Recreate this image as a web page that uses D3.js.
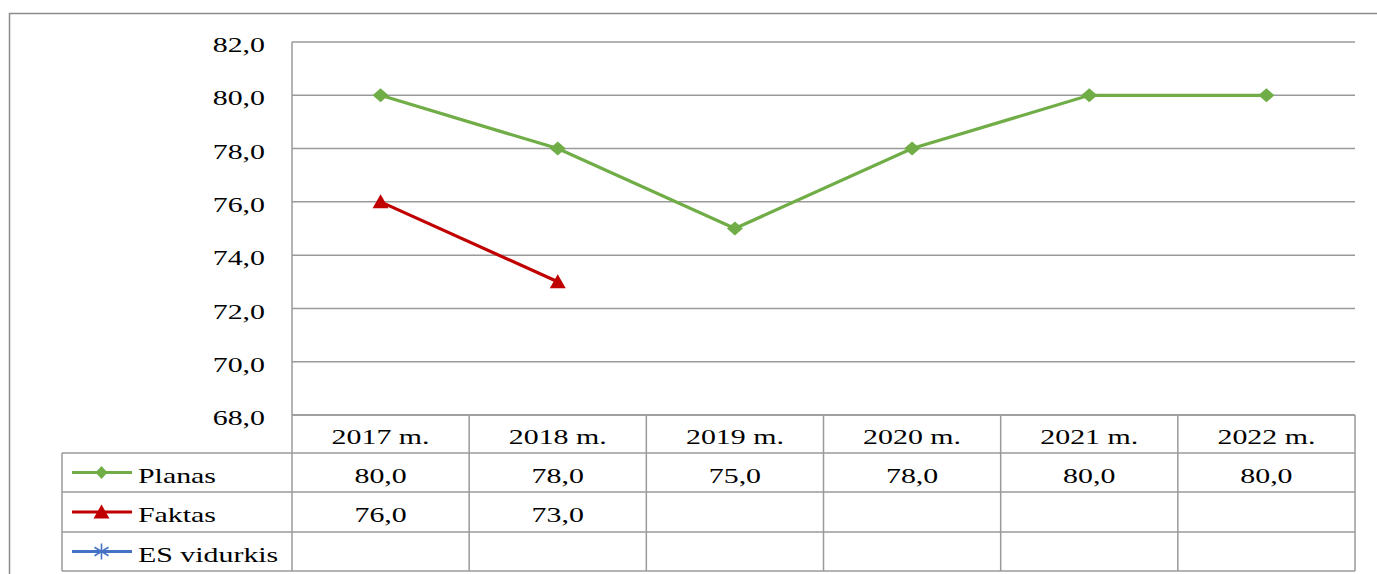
<!DOCTYPE html>
<html><head><meta charset="utf-8">
<script src="https://cdn.jsdelivr.net/npm/d3@7"></script>
<style>body{margin:0;background:#fff}svg{display:block}</style>
</head><body>
<svg id="c" width="1377" height="574"></svg>
<script>
const categories = ["2017 m.","2018 m.","2019 m.","2020 m.","2021 m.","2022 m."];
const planas = [80,78,75,78,80,80];
const faktas = [76,73,null,null,null,null];
const esVidurkis = [null,null,null,null,null,null];
const yTicks = [68,70,72,74,76,78,80,82];
const seriesNames = ["Planas","Faktas","ES vidurkis"];
const seriesColors = ["#70AD47","#C00000","#4472C4"];

(function(){
const FS=21.5;
const ctx=document.createElement("canvas").getContext("2d");
function w(fam){ctx.font=`${FS}px ${fam}`;return ctx.measureText("2017 m. Planas ES vidurkis 80,0").width;}
const cands=["Liberation Serif","Tinos","Times New Roman","DejaVu Serif","Noto Serif","FreeSerif","Times"];
let fam=null;
for(const c of cands){
  const a=w(`'${c}', monospace`), b=w("monospace");
  const a2=w(`'${c}', sans-serif`), b2=w("sans-serif");
  if(Math.abs(a-b)>0.5 && Math.abs(a2-b2)>0.5){fam=c;break;}
}
const FONT=fam?`'${fam}', serif`:"serif";
ctx.font=`${FS}px ${FONT}`;
const SX=98/ctx.measureText("2017 m.").width;

const svg = d3.select("#c");
const pL=292,pR=1355,pT=42,pB=415;
const rowH=[415,453,492,532,571];
const legendLeft=62;
const grid="#9a9a9a";

function txt(g,x,y,s,anchor){
  return g.append("text").attr("transform",`translate(${x},${y}) scale(${SX},1)`)
    .attr("text-anchor",anchor||"start").style("font-family",FONT)
    .attr("font-size",FS).attr("fill","#000").text(s);
}

svg.append("rect").attr("x",9.5).attr("y",13.5).attr("width",1400).attr("height",600)
  .attr("fill","none").attr("stroke","#8c8c8c").attr("stroke-width",1.5);

const x=d3.scaleBand().domain(categories).range([pL,pR]).padding(0);
const y=d3.scaleLinear().domain([68,82]).range([pB,pT]);
const fmt=d=>d3.format(".1f")(d).replace(".",",");

svg.append("g").selectAll("line").data(yTicks).join("line")
  .attr("x1",pL).attr("x2",pR).attr("y1",d=>y(d)).attr("y2",d=>y(d))
  .attr("stroke",grid).attr("stroke-width",1.5);

const ya=svg.append("g").attr("transform",`translate(${pL},0)`)
  .call(d3.axisLeft(y).tickValues(yTicks).tickFormat(fmt).tickSize(0).tickPadding(0));
ya.select(".domain").remove();
ya.selectAll(".tick text").each(function(){
  d3.select(this).attr("x",0).attr("dy",null).attr("y",0)
   .attr("transform",`translate(-27,9.7) scale(${SX},1)`)
   .attr("font-size",FS).attr("fill","#000").style("font-family",FONT);
});
svg.append("line").attr("x1",pL).attr("x2",pL).attr("y1",pT).attr("y2",rowH[4]).attr("stroke",grid).attr("stroke-width",1.5);

const tg=svg.append("g");
tg.append("line").attr("x1",pL).attr("x2",pR).attr("y1",rowH[0]).attr("y2",rowH[0]).attr("stroke",grid).attr("stroke-width",1.5);
[1,2,3,4].forEach(i=>tg.append("line").attr("x1",legendLeft).attr("x2",pR).attr("y1",rowH[i]).attr("y2",rowH[i]).attr("stroke",grid).attr("stroke-width",1.5));
categories.forEach(c=>tg.append("line").attr("x1",x(c)+x.bandwidth()).attr("x2",x(c)+x.bandwidth()).attr("y1",rowH[0]).attr("y2",rowH[4]).attr("stroke",grid).attr("stroke-width",1.5));
tg.append("line").attr("x1",legendLeft).attr("x2",legendLeft).attr("y1",rowH[1]).attr("y2",rowH[4]).attr("stroke",grid).attr("stroke-width",1.5);

categories.forEach(c=>txt(tg,x(c)+x.bandwidth()/2,(rowH[0]+rowH[1])/2+10,c,"middle"));

const allSeries=[planas,faktas,esVidurkis];
function marker(g,i,cx,cy,leg){
  const col=seriesColors[i];
  if(i===0){const mw=leg?6:8,h=leg?6.5:7;
    g.append("path").attr("d",`M${cx-mw},${cy}L${cx},${cy-h}L${cx+mw},${cy}L${cx},${cy+h}Z`).attr("fill",col);}
  else if(i===1){g.append("path").attr("d",`M${cx-8},${cy+6.5}L${cx},${cy-7.5}L${cx+8},${cy+6.5}Z`).attr("fill",col);}
  else {const s=7;
    g.append("path").attr("d",`M${cx-s},${cy-s*0.6}L${cx+s},${cy+s*0.6}M${cx-s},${cy+s*0.6}L${cx+s},${cy-s*0.6}M${cx},${cy-s-1}L${cx},${cy+s+1}`).attr("stroke",col).attr("stroke-width",1.6);}
}
allSeries.forEach((s,i)=>{
  const cy=(rowH[i+1]+rowH[i+2])/2;
  tg.append("line").attr("x1",72).attr("x2",132).attr("y1",cy).attr("y2",cy).attr("stroke",seriesColors[i]).attr("stroke-width",3);
  marker(tg,i,101.5,cy,true);
  txt(tg,138,cy+10,seriesNames[i]);
  categories.forEach((c,j)=>{
    if(s[j]!=null) txt(tg,x(c)+x.bandwidth()/2,cy+10,fmt(s[j]),"middle");
  });
});

allSeries.forEach((s,i)=>{
  const pts=categories.map((c,j)=>({c,v:s[j]})).filter(d=>d.v!=null);
  if(!pts.length) return;
  const line=d3.line().x(d=>x(d.c)+x.bandwidth()/2).y(d=>y(d.v));
  svg.append("path").datum(pts).attr("d",line).attr("fill","none").attr("stroke",seriesColors[i]).attr("stroke-width",3.2);
  const g=svg.append("g");
  pts.forEach(d=>marker(g,i,x(d.c)+x.bandwidth()/2,y(d.v),false));
});
})();
</script>
</body></html>
